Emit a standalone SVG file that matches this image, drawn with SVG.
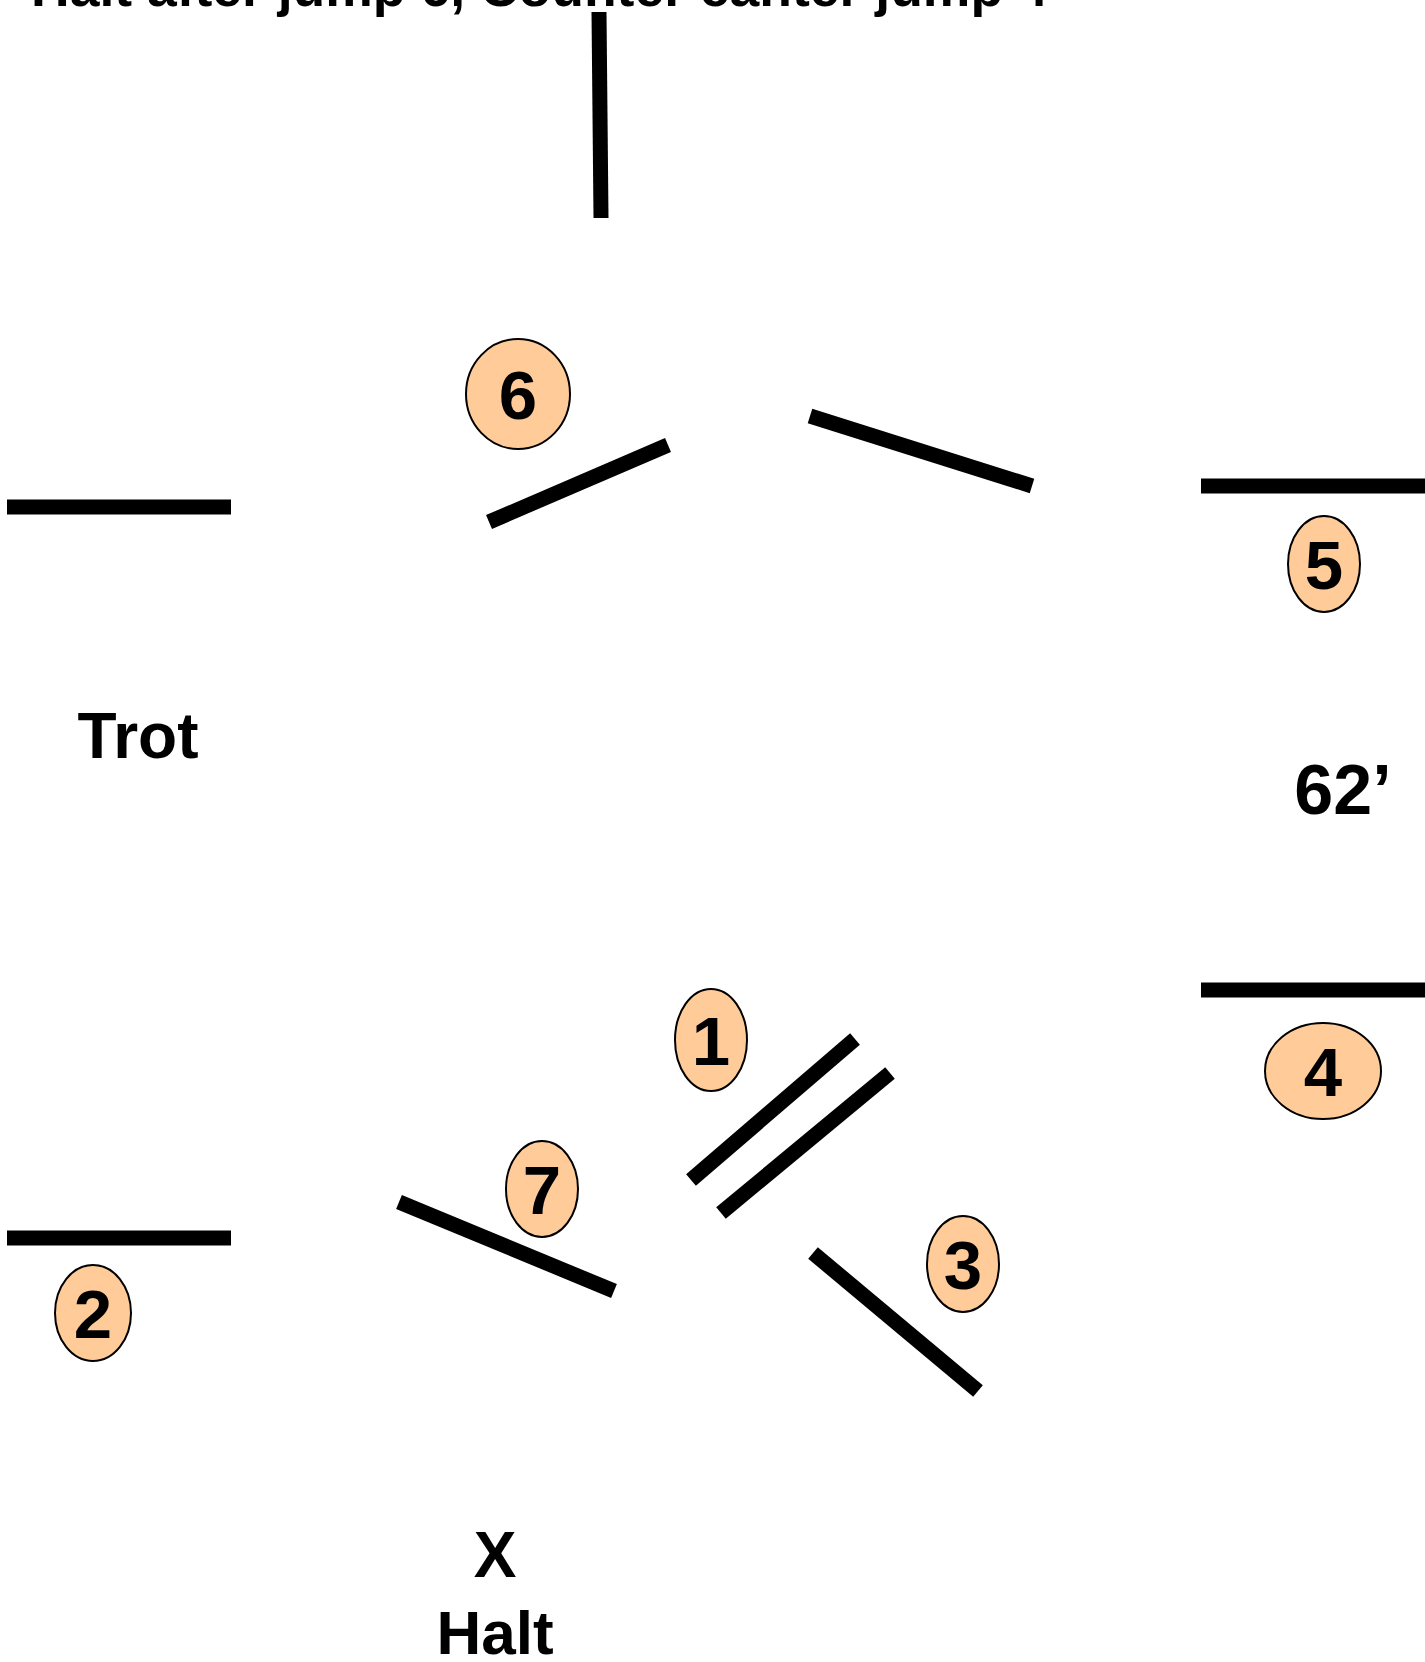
<svg xmlns="http://www.w3.org/2000/svg" width="1425" height="1662" viewBox="0 0 1425 1662">
<style>
.pole{stroke:#000;stroke-width:15;stroke-linecap:butt;fill:none}
.num{fill:#FFCC99;stroke:#000;stroke-width:2}
.d{font-family:"Liberation Sans",Arial,sans-serif;font-weight:bold;font-size:69px;text-anchor:middle;fill:#000}
.lbl{font-family:"Liberation Sans",Arial,sans-serif;font-weight:bold;fill:#000}
</style>
<rect width="1425" height="1662" fill="#fff"/>
<text class="lbl" x="31" y="6" font-size="53.5">Halt after jump 6, Counter canter jump 4</text>
<g id="connectors">
<line class="pole" x1="599" y1="12" x2="601" y2="218"/>
<line class="pole" x1="7" y1="507" x2="231" y2="507"/>
<line class="pole" x1="489" y1="522" x2="668" y2="445"/>
<line class="pole" x1="810" y1="416" x2="1032" y2="486"/>
<line class="pole" x1="1201" y1="486" x2="1425" y2="486"/>
<line class="pole" x1="1201" y1="990" x2="1425" y2="990"/>
<line class="pole" x1="691" y1="1180" x2="855" y2="1039"/>
<line class="pole" x1="721" y1="1213" x2="890" y2="1073"/>
<line class="pole" x1="813" y1="1253" x2="978" y2="1391"/>
<line class="pole" x1="399" y1="1202" x2="614" y2="1291"/>
<line class="pole" x1="7" y1="1238" x2="231" y2="1238"/>
</g>
<g id="n6"><ellipse class="num" cx="518" cy="394" rx="52" ry="55"/><text class="d" x="518" y="419">6</text></g>
<g id="n5"><ellipse class="num" cx="1324" cy="564" rx="36" ry="48"/><text class="d" x="1324" y="589">5</text></g>
<g id="n4"><ellipse class="num" cx="1323" cy="1071" rx="58" ry="48"/><text class="d" x="1323" y="1096">4</text></g>
<g id="n1"><ellipse class="num" cx="711" cy="1040" rx="36" ry="51"/><text class="d" x="711" y="1065">1</text></g>
<g id="n3"><ellipse class="num" cx="963" cy="1264" rx="36" ry="48"/><text class="d" x="963" y="1289">3</text></g>
<g id="n7"><ellipse class="num" cx="542" cy="1189" rx="36" ry="48"/><text class="d" x="542" y="1214">7</text></g>
<g id="n2"><ellipse class="num" cx="93" cy="1313" rx="38" ry="48"/><text class="d" x="93" y="1338">2</text></g>
<g id="labels">
<text class="lbl" x="138" y="758" font-size="64" text-anchor="middle">Trot</text>
<text class="lbl" x="1343" y="814" font-size="70" text-anchor="middle">62’</text>
<text class="lbl" x="495" y="1577" font-size="64" text-anchor="middle">X</text>
<text class="lbl" x="495" y="1654" font-size="62" text-anchor="middle">Halt</text>
</g>
</svg>
